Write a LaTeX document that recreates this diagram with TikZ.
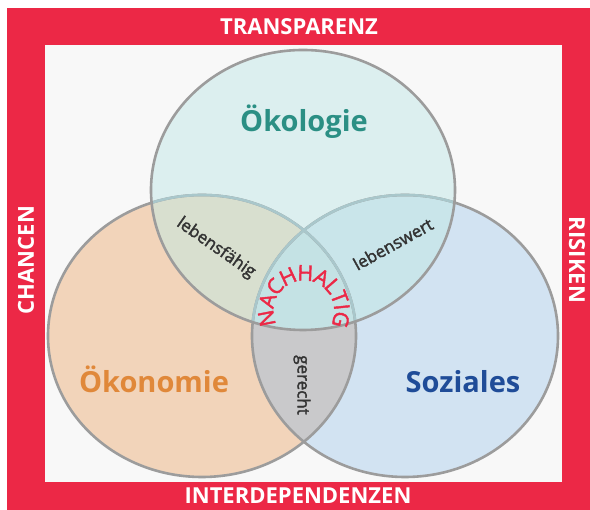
\documentclass[tikz,border=0pt]{standalone}
\usepackage{fontspec}
\setmainfont{Open Sans}
\newfontfamily\semifont[FakeBold=2]{Open Sans}
\definecolor{nred}{HTML}{EC2846}
\definecolor{paper}{HTML}{F8F8F8}
\definecolor{lpeach}{HTML}{F2D4BA}
\definecolor{lblue}{HTML}{D2E3F2}
\definecolor{lteal}{HTML}{DCEFEF}
\definecolor{lgray}{HTML}{C9C9CB}
\definecolor{lsage}{HTML}{D8DFCF}
\definecolor{lcyan}{HTML}{C9E5EA}
\definecolor{lcore}{HTML}{C4E2E4}
\definecolor{ringgray}{HTML}{9C9C9C}
\definecolor{ringpale}{HTML}{A9C7CB}
\definecolor{tealtext}{HTML}{2B8F84}
\definecolor{orangetext}{HTML}{E0883A}
\definecolor{bluetext}{HTML}{1F4C98}
\definecolor{darktext}{HTML}{333333}
\def\oeko{(303,320) ellipse [x radius=152, y radius=140]}
\def\oekon{(202,174) ellipse [x radius=154, y radius=141]}
\def\sozi{(405,174) ellipse [x radius=153, y radius=141]}
\begin{document}
\begin{tikzpicture}[x=1pt, y=1pt,
    frametext/.style={text=white, font=\bfseries\fontsize{22}{22}\selectfont},
    pillar/.style={font=\bfseries\fontsize{29}{29}\selectfont, anchor=base},
    overlap/.style={text=darktext, font=\semifont\fontsize{17}{17}\selectfont},
    arcletter/.style={text=nred, inner sep=0pt, font=\semifont\fontsize{21.5}{21.5}\selectfont},
    ring/.style={draw=ringgray, line width=2.6pt}]
    % frame
    \fill[white] (0,0) rectangle (590,510);
    \fill[nred] (7,0) rectangle (590,502);
    \fill[paper] (45,28) rectangle (562,465);
    % circles
    \fill[lpeach] \oekon;
    \fill[lblue] \sozi;
    \fill[lteal] \oeko;
    \begin{scope} \clip \oekon; \fill[lgray] \sozi; \end{scope}
    \begin{scope} \clip \oeko; \fill[lsage] \oekon; \end{scope}
    \begin{scope} \clip \oeko; \fill[lcyan] \sozi; \end{scope}
    \begin{scope} \clip \oeko; \clip \oekon; \fill[lcore] \sozi; \end{scope}
    \draw[ring] \oekon;
    \draw[ring] \sozi;
    \begin{scope} \clip \oeko; \draw[ring, draw=ringpale] \oekon; \draw[ring, draw=ringpale] \sozi; \end{scope}
    \draw[ring] \oeko;
    % labels
    \node[frametext] (transparenz) at (299,483) {TRANSPARENZ};
    \node[frametext] (interdep) at (298,14) {INTERDEPENDENZEN};
    \node[frametext, rotate=90] (chancen) at (26,250) {CHANCEN};
    \node[frametext, rotate=-90] (risiken) at (577,250) {RISIKEN};
    \node[pillar, text=tealtext] (oekologie) at (304,378) {Ökologie};
    \node[pillar, text=orangetext] (oekonomie) at (154,117) {Ökonomie};
    \node[pillar, text=bluetext] (soziales) at (463,117) {Soziales};
    \node[overlap, rotate=-35] (faehig) at (216,262) {lebensfähig};
    \node[overlap, rotate=29] (wert) at (393,266) {lebenswert};
    \node[overlap, rotate=-90] (gerecht) at (302,125) {gerecht};
    % arc of letters
    \coordinate (kern) at (304,199);
    \foreach \ch/\a [count=\i] in {N/191, A/164, C/140, H/115, H/88, A/62, L/41, T/21, I/6, G/-13}
        \node[arcletter, rotate=\a-90] (nh\i) at ([shift={(\a:38)}]kern) {\ch};
\end{tikzpicture}
\end{document}
